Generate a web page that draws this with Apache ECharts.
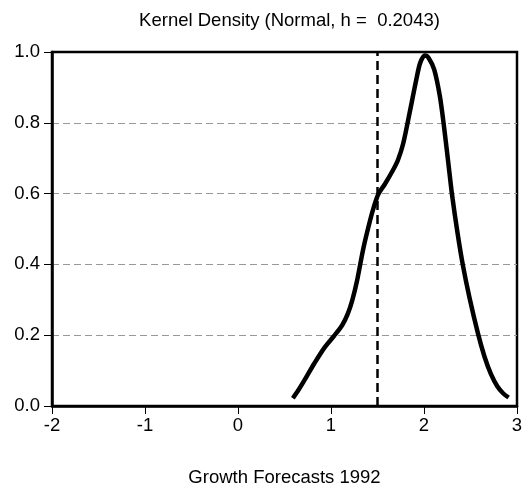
<!DOCTYPE html>
<html>
<head>
<meta charset="utf-8">
<script src="https://cdn.jsdelivr.net/npm/echarts@6/dist/echarts.min.js"></script>
<style>html,body{margin:0;padding:0;background:#fff;}#c{width:532px;height:493px;}</style>
</head>
<body>
<div id="c"></div>
<script>
var titleText = 'Kernel Density (Normal, h =  0.2043)';
var xName = 'Growth Forecasts 1992';
var xs = [0.59, 0.65, 0.72, 0.82, 0.93, 1.03, 1.12, 1.18, 1.23, 1.28, 1.35, 1.42, 1.46, 1.51, 1.58, 1.67, 1.72, 1.775, 1.846, 1.918, 1.96, 2.01, 2.05, 2.11, 2.17, 2.21, 2.26, 2.30, 2.36, 2.42, 2.49, 2.58, 2.65, 2.72, 2.79, 2.85, 2.91];
var ys = [0.022, 0.045, 0.075, 0.12, 0.165, 0.197, 0.228, 0.26, 0.30, 0.354, 0.448, 0.524, 0.562, 0.599, 0.627, 0.668, 0.695, 0.74, 0.829, 0.923, 0.97, 0.99, 0.983, 0.95, 0.876, 0.80, 0.69, 0.60, 0.49, 0.395, 0.305, 0.205, 0.14, 0.09, 0.055, 0.036, 0.024];
var refX = 1.5;
var xMin = -2, xMax = 3, xStep = 1;
var yMin = 0, yMax = 1, yStep = 0.2;

var data = xs.map(function (x, i) { return [x, ys[i]]; });
var font = 'Liberation Sans, Arial, sans-serif';
var chart = echarts.init(document.getElementById('c'), null, {renderer: 'canvas'});
chart.setOption({
  animation: false,
  backgroundColor: '#fff',
  title: {
    text: titleText, left: 284.5, textAlign: 'center', top: 6,
    textStyle: {fontFamily: font, fontSize: 18.5, fontWeight: 'normal', color: '#000'}
  },
  grid: {left: 52, right: 15, top: 52, bottom: 87, show: true, borderColor: '#000', borderWidth: 2.5, backgroundColor: 'transparent'},
  xAxis: {
    type: 'value', min: xMin, max: xMax, interval: xStep,
    name: xName, nameLocation: 'middle', nameGap: 62,
    nameTextStyle: {fontFamily: font, fontSize: 18.5, color: '#000'},
    axisLine: {show: true, onZero: false, lineStyle: {color: '#000', width: 2.5}},
    axisTick: {show: true, length: 8, lineStyle: {color: '#000', width: 1}},
    axisLabel: {fontFamily: font, fontSize: 18.5, color: '#000', margin: 10},
    splitLine: {show: false}
  },
  yAxis: {
    type: 'value', min: yMin, max: yMax, interval: yStep,
    axisLine: {show: true, onZero: false, lineStyle: {color: '#000', width: 2.5}},
    axisTick: {show: true, length: 8, lineStyle: {color: '#000', width: 1}},
    axisLabel: {fontFamily: font, fontSize: 18.5, color: '#000', margin: 12,
      formatter: function (v) { return v.toFixed(1); }},
    splitLine: {show: true, showMinLine: false, showMaxLine: false, lineStyle: {color: '#999', width: 1, type: [7, 4]}}
  },
  series: [{
    type: 'line', data: data, smooth: 0.3, showSymbol: false,
    lineStyle: {color: '#000', width: 4.5},
    markLine: {
      silent: true, symbol: 'none', label: {show: false},
      lineStyle: {color: '#000', width: 2.5, type: [9, 5]},
      data: [{xAxis: refX}]
    }
  }]
});
</script>
</body>
</html>
